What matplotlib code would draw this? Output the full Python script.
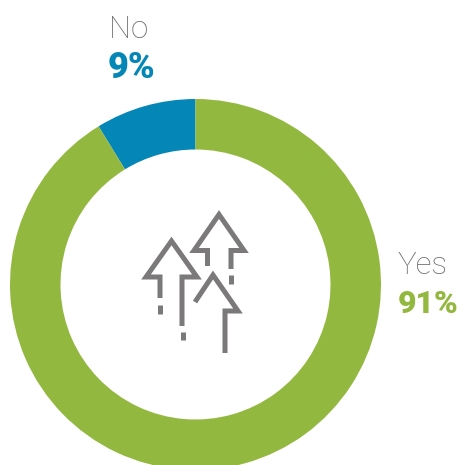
import matplotlib
matplotlib.use('Agg')
import matplotlib.pyplot as plt

labels = ['No', 'Yes']
shares = [8.75, 91.25]
shown = ['9%', '91%']
colors = ['#0487B7', '#93B83F']
gray = '#7B7979'

fig = plt.figure(figsize=(4.6, 4.65), dpi=100)
ax = fig.add_axes([0, 0, 1, 1])

ax.pie(shares, colors=colors, startangle=90, center=(195.5, 465 - 284.5), radius=185.5,
       wedgeprops=dict(width=50.5, linewidth=0), frame=True)
ax.set_xlim(0, 460)
ax.set_ylim(0, 465)
ax.set_aspect('equal')
ax.axis('off')


# icon paths are given in pixels of the picture, y going down
def icon_line(pts, lw=3.6):
    xs = [p[0] for p in pts]
    ys = [465 - p[1] for p in pts]
    ax.plot(xs, ys, color=gray, lw=lw, solid_joinstyle='miter', solid_capstyle='butt')


# left arrow
icon_line([(160, 298), (160, 277), (146, 277), (171.5, 241), (197, 277), (182, 277), (182, 326)])
icon_line([(160, 304.5), (160, 314)])
icon_line([(183, 331.5), (183, 340.5)])
# top right arrow
icon_line([(207.5, 266), (207.5, 250.5), (194, 250.5), (219, 214.5), (244, 250.5), (231, 250.5), (231, 269)])
icon_line([(231, 275), (231, 284)])
# front arrow
icon_line([(195, 302), (213, 275), (238, 311), (225, 311), (225, 353)])

ax.text(109, 465 - 29, labels[0], family='Roboto', weight='light', fontsize=22.5, color='#6E6C6C',
        ha='left', va='center')
ax.text(108, 465 - 68, shown[0], family='Roboto', weight='black', fontsize=26, color=colors[0],
        ha='left', va='center')
ax.text(398, 465 - 265.5, labels[1], family='Roboto', weight='light', fontsize=22.5, color='#6E6C6C',
        ha='left', va='center')
ax.text(398, 465 - 304, shown[1], family='Roboto', weight='black', fontsize=23, color=colors[1],
        ha='left', va='center')

fig.savefig('out.png', dpi=100)
